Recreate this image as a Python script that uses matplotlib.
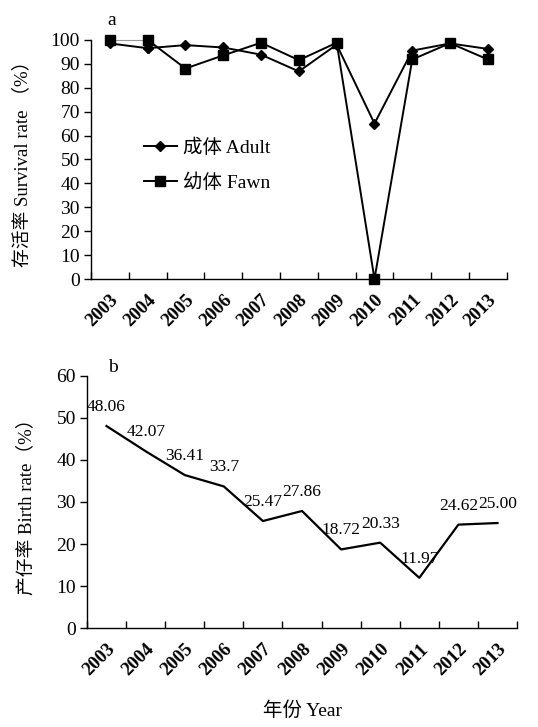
import matplotlib
matplotlib.use("Agg")
import matplotlib.pyplot as plt
import numpy as np

years = ["2003", "2004", "2005", "2006", "2007", "2008", "2009", "2010", "2011", "2012", "2013"]
adult_survival = [98.5, 96.5, 97.8, 96.8, 93.8, 86.8, 98.0, 65.0, 95.5, 98.5, 96.2]
fawn_survival = [100.0, 100.0, 88.0, 93.5, 98.8, 91.5, 98.8, 0.0, 91.8, 98.6, 91.8]
birth_rate = [48.06, 42.07, 36.41, 33.7, 25.47, 27.86, 18.72, 20.33, 11.97, 24.62, 25.00]
birth_labels = ["48.06", "42.07", "36.41", "33.7", "25.47", "27.86", "18.72", "20.33", "11.97", "24.62", "25.00"]

FONT = ["Liberation Serif", "Noto Sans CJK SC"]
plt.rcParams["font.family"] = FONT
plt.rcParams["font.size"] = 13

fig = plt.figure(figsize=(5.38, 7.27), dpi=100)
ax1 = fig.add_axes([0.169, 0.6162, 0.773, 0.329])
ax2 = fig.add_axes([0.1617, 0.136, 0.7993, 0.347])

x = np.arange(len(years))


def style_axis(ax, ymax, step):
    ax.set_xlim(-0.5, len(years) - 0.5)
    ax.set_ylim(0, ymax)
    ax.set_yticks(np.arange(0, ymax + 1, step))
    for s in ("top", "right"):
        ax.spines[s].set_visible(False)
    for s in ("left", "bottom"):
        ax.spines[s].set_linewidth(1.0)
    ax.set_xticks(x)
    ax.set_xticklabels(years, rotation=45, ha="right", rotation_mode="anchor",
                       fontweight="bold", fontsize=13.5)
    ax.set_xticks(np.arange(-0.5, len(years)), minor=True)
    ax.tick_params(axis="x", which="major", length=0, pad=9)
    ax.tick_params(axis="x", which="minor", direction="in", length=5, width=1.0)
    ax.tick_params(axis="y", direction="out", length=5, width=1.0, labelsize=14, pad=3)


# Panel a: survival
ax1.plot(x[1:], adult_survival[1:], color="black", lw=1.4, marker="D", ms=5,
         label="成体 Adult", clip_on=False, zorder=3)
ax1.plot(x[:2], adult_survival[:2], color="black", lw=1.4, marker="D", ms=5,
         clip_on=False, zorder=3)
ax1.plot(x[1:], fawn_survival[1:], color="black", lw=1.4, marker="s", ms=7.5,
         label="幼体 Fawn", clip_on=False, zorder=3)
# the first fawn segment is drawn as a thin grey rule
ax1.plot(x[:2], fawn_survival[:2], color="0.6", lw=0.8, clip_on=False, zorder=2)
ax1.plot(x[:1], fawn_survival[:1], color="black", marker="s", ms=7.5,
         ls="none", clip_on=False, zorder=3)
style_axis(ax1, 100, 10)
ax1.set_ylabel("存活率 Survival rate （%）", fontsize=13.5, labelpad=14)
ax1.text(0.04, 1.06, "a", transform=ax1.transAxes, fontsize=14)
ax1.legend(loc="upper left", bbox_to_anchor=(0.085, 0.66), frameon=False,
           fontsize=14, handlelength=1.7, handletextpad=0.3, labelspacing=0.85)

# Panel b: birth rate
ax2.plot(x, birth_rate, color="black", lw=1.6, clip_on=False)
style_axis(ax2, 60, 10)
ax2.set_ylabel("产仔率 Birth rate（%）", fontsize=13.5, labelpad=15)
ax2.text(0.05, 1.0, "b", transform=ax2.transAxes, fontsize=14, va="bottom")
for xi, yi, lab in zip(x, birth_rate, birth_labels):
    ax2.annotate(lab, (xi, yi), xytext=(0, 8), textcoords="offset points",
                 ha="center", va="bottom", fontsize=12.5)
ax2.set_xlabel("年份 Year", fontsize=14, labelpad=16)

fig.savefig("out.png", dpi=100)
